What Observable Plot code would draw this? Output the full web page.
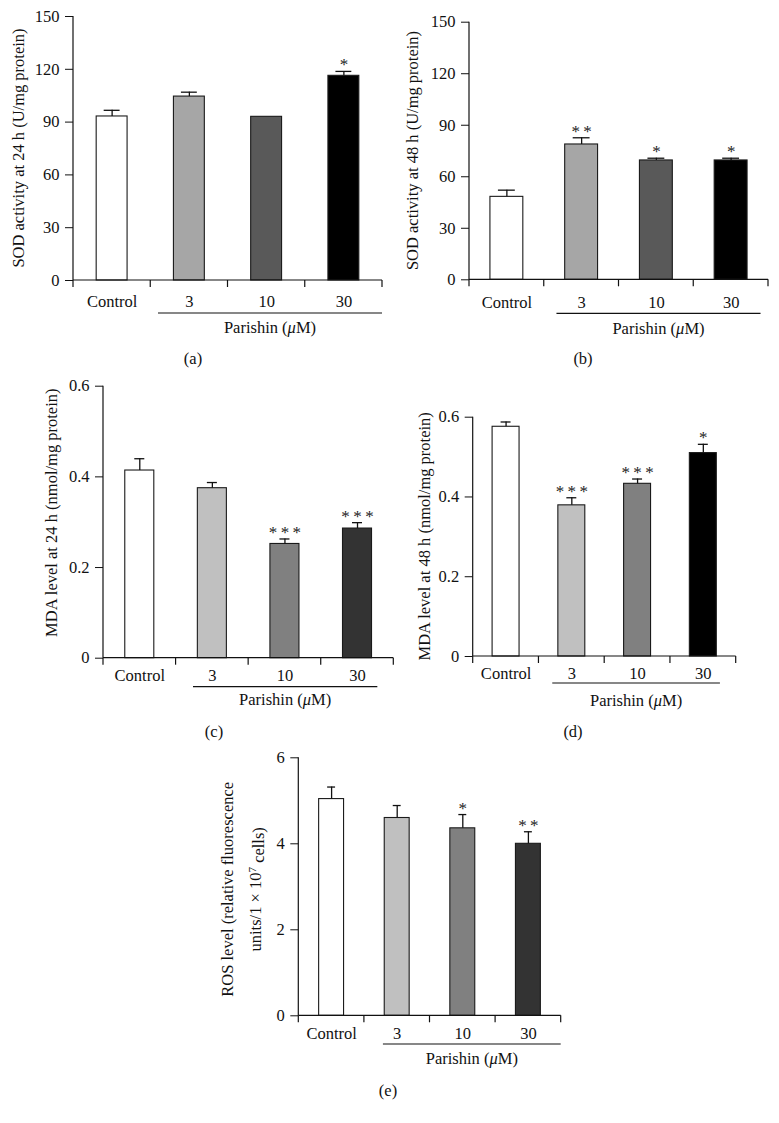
<!DOCTYPE html>
<html><head><meta charset="utf-8">
<script src="https://cdn.jsdelivr.net/npm/d3@7"></script>
<script src="https://cdn.jsdelivr.net/npm/@observablehq/plot@0.6"></script>
<style>
html,body{margin:0;padding:0;background:#fff;}
#page{position:relative;width:779px;height:1123px;overflow:hidden;background:#fff;}
.panel{position:absolute;}
</style></head><body><div id="page"></div>
<script>
// ---- data ----
const categories = ["Control", "3", "10", "30"];

const sod24 = [93.2, 104.5, 93.0, 116.3];
const sod24Err = [3.5, 2.5, 0, 2.5];
const sod24Sig = ["", "", "", "*"];

const sod48 = [48.3, 78.8, 69.5, 69.5];
const sod48Err = [3.9, 3.9, 1.3, 1.3];
const sod48Sig = ["", "**", "*", "*"];

const mda24 = [0.414, 0.375, 0.252, 0.286];
const mda24Err = [0.026, 0.0125, 0.011, 0.013];
const mda24Sig = ["", "", "***", "***"];

const mda48 = [0.576, 0.379, 0.433, 0.510];
const mda48Err = [0.012, 0.019, 0.012, 0.022];
const mda48Sig = ["", "***", "***", "*"];

const ros = [5.04, 4.60, 4.36, 4.00];
const rosErr = [0.28, 0.29, 0.32, 0.28];
const rosSig = ["", "", "*", "**"];

const sodTicks = [0, 30, 60, 90, 120, 150];
const mdaTicks = [0, 0.2, 0.4, 0.6];
const rosTicks = [0, 2, 4, 6];

const groupLabel = ["Parishin (", "μ", "M)"];

// ---- styles ----
const FONT = "'Liberation Serif', 'Times New Roman', serif";
const INK = "#111";
const fillsAB = ["#ffffff", "#a6a6a6", "#595959", "#000000"];
const fillsCE = ["#ffffff", "#c0c0c0", "#808080", "#333333"];
const fillsD = ["#ffffff", "#c0c0c0", "#808080", "#000000"];

const panels = [
  {id: "(a)", left: 0, top: 0, width: 390, height: 375, mL: 73, mR: 8, mT: 16, mB: 95,
   values: sod24, errors: sod24Err, sig: sod24Sig, ticks: sodTicks, fills: fillsAB, pad: 0.6, cap: 7.5,
   xpad: 14.5, uOff: 33, gOff: 47, under: [0.10, 0], capX: 193, capY: 358, ylx: [-55], yly: 0,
   ylabel: [[{t: "SOD activity at 24 h (U/mg protein)"}]]},
  {id: "(b)", left: 390, top: 0, width: 389, height: 375, mL: 79, mR: 11, mT: 21.7, mB: 95.7,
   values: sod48, errors: sod48Err, sig: sod48Sig, ticks: sodTicks, fills: fillsAB, pad: 0.56, cap: 8,
   xpad: 16.5, uOff: 34, gOff: 49, under: [0.17, 0.10], capX: 193, capY: 358, ylx: [-57], yly: 0,
   ylabel: [[{t: "SOD activity at 48 h (U/mg protein)"}]]},
  {id: "(c)", left: 0, top: 370, width: 400, height: 375, mL: 103, mR: 6.7, mT: 15.7, mB: 87.3,
   values: mda24, errors: mda24Err, sig: mda24Sig, ticks: mdaTicks, fills: fillsCE, pad: 0.6, cap: 9.5,
   xpad: 11, uOff: 29, gOff: 42, under: [0.24, 0.22], capX: 214, capY: 361, ylx: [-52], yly: -9,
   ylabel: [[{t: "MDA level at 24 h (nmol/mg protein)"}]]},
  {id: "(d)", left: 390, top: 370, width: 389, height: 375, mL: 82.7, mR: 43.3, mT: 46.7, mB: 89,
   values: mda48, errors: mda48Err, sig: mda48Sig, ticks: mdaTicks, fills: fillsD, pad: 0.59, cap: 8.5,
   xpad: 10.5, uOff: 27, gOff: 44, under: [0.21, 0.24], capX: 183, capY: 361, ylx: [-48], yly: 0,
   ylabel: [[{t: "MDA level at 48 h (nmol/mg protein)"}]]},
  {id: "(e)", left: 200, top: 740, width: 400, height: 383, mL: 98.3, mR: 39.3, mT: 17.3, mB: 107.7,
   values: ros, errors: rosErr, sig: rosSig, ticks: rosTicks, fills: fillsCE, pad: 0.62, cap: 8.5,
   xpad: 11.2, uOff: 28.7, gOff: 42.7, under: [0.29, 0], capX: 188, capY: 350, ylx: [-71, -43], yly: 3,
   ylabel: [[{t: "ROS level (relative fluorescence"}], [{t: "units/1 × 10"}, {t: "7", sup: true}, {t: " cells)"}]]}
];

function makePanel(cfg) {
  const data = categories.map((c, i) => ({cat: c, v: cfg.values[i], e: cfg.errors[i], sig: cfg.sig[i], fill: cfg.fills[i]}));
  const withErr = data.filter(d => d.e > 0);
  const ymax = cfg.ticks[cfg.ticks.length - 1];

  const decor = (index, scales, values, dims) => {
    const x = scales.x, y = scales.y;
    const bw = x.bandwidth(), step = x.step();
    const left = dims.marginLeft, right = dims.width - dims.marginRight;
    const base = y(0), top = y(ymax);
    const g = d3.create("svg:g").attr("fill", "none").attr("stroke", INK).attr("stroke-width", 1.2);
    g.append("line").attr("x1", left).attr("x2", left).attr("y1", base).attr("y2", top);
    g.append("line").attr("x1", left).attr("x2", right).attr("y1", base).attr("y2", base);
    const bounds = categories.map(c => x(c) + bw / 2 - step / 2);
    bounds.push(x(categories[categories.length - 1]) + bw / 2 + step / 2);
    for (const b of bounds) g.append("line").attr("x1", b).attr("x2", b).attr("y1", base).attr("y2", base + 7);
    const u1 = bounds[1] + cfg.under[0] * step, u2 = bounds[bounds.length - 1] - cfg.under[1] * step;
    g.append("line").attr("x1", u1).attr("x2", u2).attr("y1", base + cfg.uOff).attr("y2", base + cfg.uOff);
    const gt = g.append("text").attr("x", (u1 + u2) / 2).attr("y", base + cfg.gOff)
      .attr("text-anchor", "middle").attr("dy", "0.35em").attr("fill", INK).attr("stroke", "none");
    gt.append("tspan").text(groupLabel[0]);
    gt.append("tspan").attr("font-style", "italic").text(groupLabel[1]);
    gt.append("tspan").text(groupLabel[2]);
    // y label
    cfg.ylabel.forEach((line, li) => {
      const t = g.append("text")
        .attr("transform", `translate(${left + cfg.ylx[li]},${(base + top) / 2 + cfg.yly}) rotate(-90)`)
        .attr("text-anchor", "middle").attr("dy", "0.35em").attr("fill", INK).attr("stroke", "none");
      for (const seg of line) {
        if (seg.sup) {
          t.append("tspan").attr("dy", "-0.45em").attr("font-size", "11px").text(seg.t);
        } else if (line.some(s => s.sup) && seg !== line[0]) {
          t.append("tspan").attr("dy", "0.45em").text(seg.t);
        } else {
          t.append("tspan").text(seg.t);
        }
      }
    });
    // caption
    g.append("text").attr("x", cfg.capX).attr("y", cfg.capY).attr("text-anchor", "middle").attr("dy", "0.35em")
      .attr("fill", INK).attr("stroke", "none").text(cfg.id);
    return g.node();
  };

  return Plot.plot({
    width: cfg.width, height: cfg.height,
    marginLeft: cfg.mL, marginRight: cfg.mR, marginTop: cfg.mT, marginBottom: cfg.mB,
    style: {fontFamily: FONT, fontSize: "16.5px", background: "transparent", color: INK, overflow: "visible"},
    x: {type: "band", domain: categories, paddingInner: cfg.pad, paddingOuter: cfg.pad / 2, round: false},
    y: {domain: [0, ymax]},
    color: {type: "identity"},
    marks: [
      Plot.barY(data, {x: "cat", y: "v", fill: "fill", stroke: "#1a1a1a", strokeWidth: 1.1, inset: 0}),
      Plot.ruleX(withErr, {x: "cat", y1: "v", y2: d => d.v + d.e, stroke: INK, strokeWidth: 1.3}),
      Plot.tickY(withErr, {x: "cat", y: d => d.v + d.e, stroke: INK, strokeWidth: 1.3, insetLeft: cfg.cap, insetRight: cfg.cap}),
      Plot.text(data.filter(d => d.sig), {x: "cat", y: d => d.v + d.e, text: d => d.sig.split("").join("\u2009"), lineAnchor: "bottom", dy: -1, fontSize: 17, fill: "#222"}),
      Plot.axisY({ticks: cfg.ticks, tickSize: 8, tickPadding: 6, label: null, tickFormat: d => String(d)}),
      Plot.axisX({tickSize: 0, tickPadding: cfg.xpad, label: null}),
      decor
    ]
  });
}

const page = document.getElementById("page");
for (const cfg of panels) {
  const div = document.createElement("div");
  div.className = "panel";
  div.style.left = cfg.left + "px";
  div.style.top = cfg.top + "px";
  div.appendChild(makePanel(cfg));
  page.appendChild(div);
}
</script>
</body></html>
